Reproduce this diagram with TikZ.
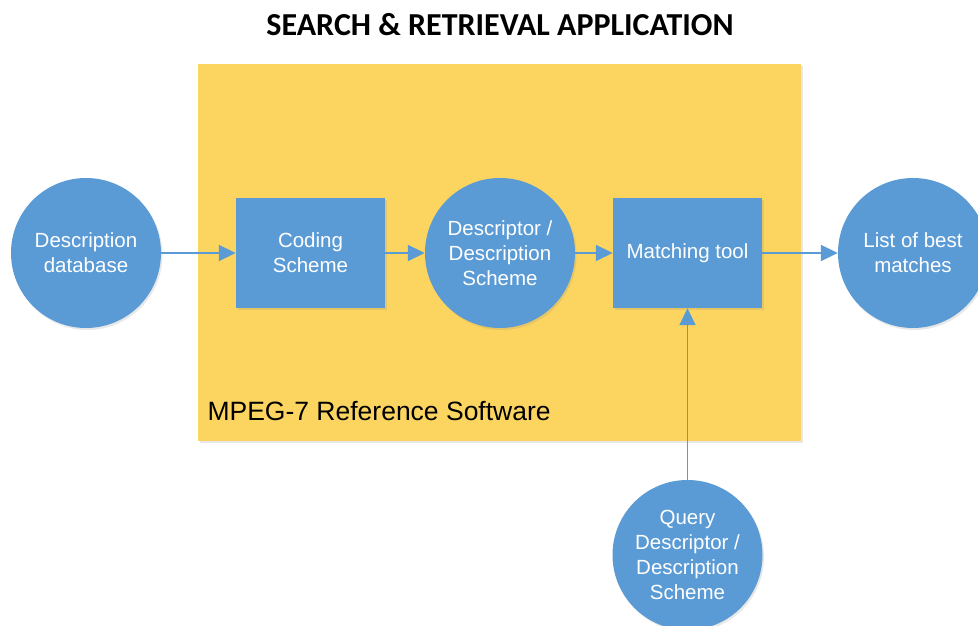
\documentclass[tikz,border=0pt]{standalone}
\usepackage{fontspec}
\setmainfont{Liberation Sans}
\newfontfamily\titlefont{Carlito}
\usetikzlibrary{arrows.meta,shadows}
\definecolor{panelyellow}{RGB}{252,213,96}
\definecolor{shapeblue}{RGB}{91,155,213}
\tikzset{
  x=1pt,y=1pt,
  softshadow/.style={drop shadow={opacity=0.18,shadow xshift=1.5pt,shadow yshift=-2pt}},
  roundnode/.style={circle,fill=shapeblue,minimum size=150pt,inner sep=0pt,align=center,text=white,font=\fontsize{20.5}{25}\selectfont,softshadow},
  boxnode/.style={rectangle,fill=shapeblue,minimum width=149pt,minimum height=110pt,inner sep=0pt,align=center,text=white,font=\fontsize{20.5}{25}\selectfont,softshadow},
  flow/.style={draw=shapeblue,line width=1.8pt,-{Triangle[length=17pt,width=16pt]}},
}
\begin{document}
\begin{tikzpicture}
\useasboundingbox (0,0) rectangle (978,626);
\fill[white] (0,0) rectangle (978,626);
% panel
\node[rectangle,fill=panelyellow,minimum width=603pt,minimum height=377pt,inner sep=0pt,anchor=north west,softshadow] (panel) at (198,562) {};
\node[anchor=west,font=\fontsize{26.5}{31}\selectfont] (paneltitle) at (204,215) {MPEG-7 Reference Software};
% title
\node[font=\titlefont\bfseries\fontsize{32}{38}\selectfont] (title) at (500,601) {SEARCH \& RETRIEVAL APPLICATION};
% nodes
\node[roundnode] (db) at (86,373) {Description\\database};
\node[boxnode] (coding) at (310.5,373) {Coding\\Scheme};
\node[roundnode] (desc) at (500,373) {Descriptor /\\Description\\Scheme};
\node[boxnode] (match) at (687.5,373) {Matching tool};
\node[roundnode] (list) at (913,373) {List of best\\matches};
\node[roundnode] (query) at (687.5,71) {Query\\Descriptor /\\Description\\Scheme};
% connectors
\draw[flow] (db) -- (coding);
\draw[flow] (coding) -- (desc);
\draw[flow] (desc) -- (match);
\draw[flow] (match) -- (list);
\draw[flow] (query) -- (match);
\end{tikzpicture}
\end{document}
